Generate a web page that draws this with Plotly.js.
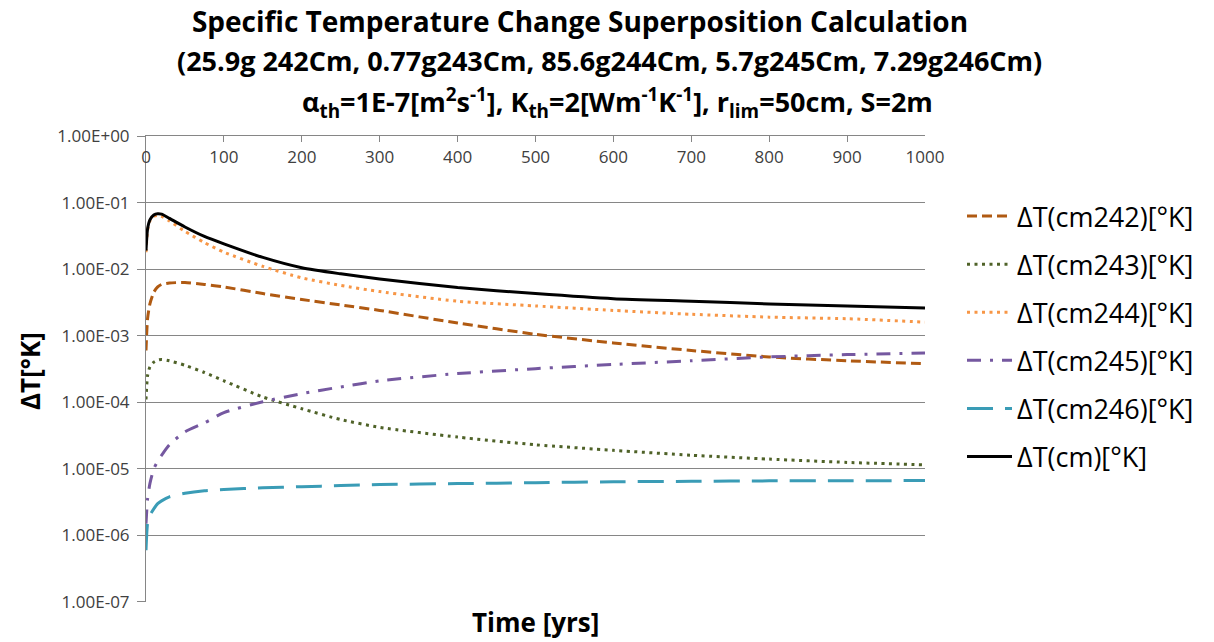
<!DOCTYPE html>
<html>
<head>
<meta charset="utf-8">
<script src="https://cdn.plot.ly/plotly-3.0.1.min.js"></script>
<style>html,body{margin:0;padding:0;background:#fff;}#chart{width:1214px;height:642px;}</style>
</head>
<body>
<div id="chart"></div>
<script>
const years = [0, 2, 5, 10, 15, 20, 30, 50, 75, 100, 150, 200, 250, 300, 400, 500, 600, 700, 800, 900, 1000];
const dT_cm242 = [6e-4, 1.8e-3, 3.0e-3, 4.5e-3, 5.4e-3, 5.9e-3, 6.2e-3, 6.3e-3, 5.9e-3, 5.4e-3, 4.3e-3, 3.5e-3, 2.9e-3, 2.4e-3, 1.55e-3, 1.05e-3, 7.8e-4, 6.0e-4, 4.8e-4, 4.2e-4, 3.8e-4];
const dT_cm243 = [1.1e-4, 2.5e-4, 3.4e-4, 4.0e-4, 4.3e-4, 4.4e-4, 4.2e-4, 3.6e-4, 2.8e-4, 2.1e-4, 1.2e-4, 8.0e-5, 5.5e-5, 4.2e-5, 3.0e-5, 2.3e-5, 1.9e-5, 1.6e-5, 1.4e-5, 1.25e-5, 1.15e-5];
const dT_cm244 = [1.8e-2, 3.8e-2, 5.3e-2, 6.2e-2, 6.4e-2, 6.2e-2, 5.3e-2, 3.7e-2, 2.5e-2, 1.8e-2, 1.1e-2, 7.4e-3, 5.7e-3, 4.6e-3, 3.3e-3, 2.8e-3, 2.4e-3, 2.1e-3, 1.9e-3, 1.8e-3, 1.6e-3];
const dT_cm245 = [1.5e-6, 3.5e-6, 6e-6, 1.0e-5, 1.3e-5, 1.6e-5, 2.3e-5, 3.6e-5, 4.9e-5, 7.0e-5, 1.02e-4, 1.35e-4, 1.7e-4, 2.1e-4, 2.7e-4, 3.2e-4, 3.7e-4, 4.2e-4, 4.8e-4, 5.2e-4, 5.5e-4];
const dT_cm246 = [6e-7, 1.5e-6, 2.0e-6, 2.5e-6, 3.0e-6, 3.3e-6, 3.8e-6, 4.3e-6, 4.7e-6, 4.9e-6, 5.2e-6, 5.4e-6, 5.6e-6, 5.8e-6, 6.0e-6, 6.2e-6, 6.4e-6, 6.5e-6, 6.6e-6, 6.6e-6, 6.7e-6];
const dT_cm = [1.9e-2, 4.0e-2, 5.5e-2, 6.5e-2, 6.8e-2, 6.7e-2, 5.8e-2, 4.3e-2, 3.1e-2, 2.4e-2, 1.5e-2, 1.05e-2, 8.5e-3, 7.1e-3, 5.3e-3, 4.3e-3, 3.6e-3, 3.3e-3, 3.0e-3, 2.8e-3, 2.6e-3];

const seriesNames = ["ΔT(cm242)[°K]", "ΔT(cm243)[°K]", "ΔT(cm244)[°K]", "ΔT(cm245)[°K]", "ΔT(cm246)[°K]", "ΔT(cm)[°K]"];
const yTickVals = [1e-7, 1e-6, 1e-5, 1e-4, 1e-3, 1e-2, 1e-1, 1e0];
const yTickText = ["1.00E-07", "1.00E-06", "1.00E-05", "1.00E-04", "1.00E-03", "1.00E-02", "1.00E-01", "1.00E+00"];
const xTickVals = [0, 100, 200, 300, 400, 500, 600, 700, 800, 900, 1000];

const seriesData = [dT_cm242, dT_cm243, dT_cm244, dT_cm245, dT_cm246, dT_cm];
const styles = [
  {color: "#B05A12", dash: "10px,5px", width: 3},
  {color: "#4F6228", dash: "3px,4.5px", width: 3},
  {color: "#F79646", dash: "3px,4.5px", width: 3},
  {color: "#7558A0", dash: "14px,9px,3px,9px", width: 3},
  {color: "#3A9CB6", dash: "26px,12px", width: 3},
  {color: "#000000", dash: "solid", width: 3}
];

const traces = seriesData.map((ys, i) => ({
  x: years, y: ys, type: "scatter", mode: "lines",
  name: seriesNames[i], legendgroup: "g" + i,
  line: {color: styles[i].color, dash: styles[i].dash, width: styles[i].width, shape: "spline", smoothing: 0.6}
}));

const FONT = "Open Sans, Noto Sans, DejaVu Sans, sans-serif";
const layout = {
  width: 1214, height: 642,
  margin: {l: 146, r: 289, t: 136, b: 40},
  paper_bgcolor: "#ffffff", plot_bgcolor: "#ffffff",
  font: {family: FONT, color: "#000"},
  title: {text: "Specific Temperature Change Superposition Calculation", x: 580 / 1214, xanchor: "center", y: 1 - 22 / 642, yanchor: "middle", font: {size: 28, family: FONT, weight: 700, color: "#000"}},
  annotations: [
    {text: "(25.9g 242Cm, 0.77g243Cm, 85.6g244Cm, 5.7g245Cm, 7.29g246Cm)", xref: "paper", yref: "paper", x: (609 - 146) / 779, y: 1 + (136 - 61) / 466, xanchor: "center", yanchor: "middle", showarrow: false, font: {size: 27, family: FONT, weight: 700, color: "#000"}},
    {text: "α<sub>th</sub>=1E-7[m<sup>2</sup>s<sup>-1</sup>], K<sub>th</sub>=2[Wm<sup>-1</sup>K<sup>-1</sup>], r<sub>lim</sub>=50cm, S=2m", xref: "paper", yref: "paper", x: (617 - 146) / 779, y: 1 + (136 - 102) / 466, xanchor: "center", yanchor: "middle", showarrow: false, font: {size: 27, family: FONT, weight: 700, color: "#000"}},
    {text: "Time [yrs]", xref: "paper", yref: "paper", x: (535 - 146) / 779, y: -(622 - 602) / 466, xanchor: "center", yanchor: "middle", showarrow: false, font: {size: 26, family: FONT, weight: 700, color: "#000"}},
    {text: "ΔT[°K]", xref: "paper", yref: "paper", x: -(146 - 30) / 779, y: 1 - (371 - 136) / 466, xanchor: "center", yanchor: "middle", textangle: -90, showarrow: false, font: {size: 26, family: FONT, weight: 700, color: "#000"}}
  ],
  xaxis: {
    range: [0, 1000], tickvals: xTickVals, side: "top",
    ticks: "inside", ticklen: 6, tickcolor: "#868686",
    ticklabelposition: "outside", ticklabelstandoff: -35,
    showline: true, linecolor: "#868686", linewidth: 1,
    showgrid: false, zeroline: false,
    tickfont: {size: 17, family: FONT, color: "#404040"}
  },
  yaxis: {
    type: "log", range: [-7.0002, 0.0002],
    tickvals: yTickVals, ticktext: yTickText,
    ticks: "outside", ticklen: 8, tickcolor: "#868686",
    ticklabelstandoff: 4,
    showline: true, linecolor: "#868686", linewidth: 1,
    showgrid: true, gridcolor: "#868686", gridwidth: 1,
    zeroline: false,
    tickfont: {size: 17, family: FONT, color: "#404040"}
  },
  legend: {
    x: (962 - 146) / 779, xanchor: "left", y: 1 - (192 - 136) / 466, yanchor: "top",
    font: {size: 27, family: FONT, color: "#000"},
    tracegroupgap: 10, itemwidth: 45, bgcolor: "rgba(0,0,0,0)"
  },
  showlegend: true
};

Plotly.newPlot("chart", traces, layout, {staticPlot: true});
</script>
</body>
</html>
